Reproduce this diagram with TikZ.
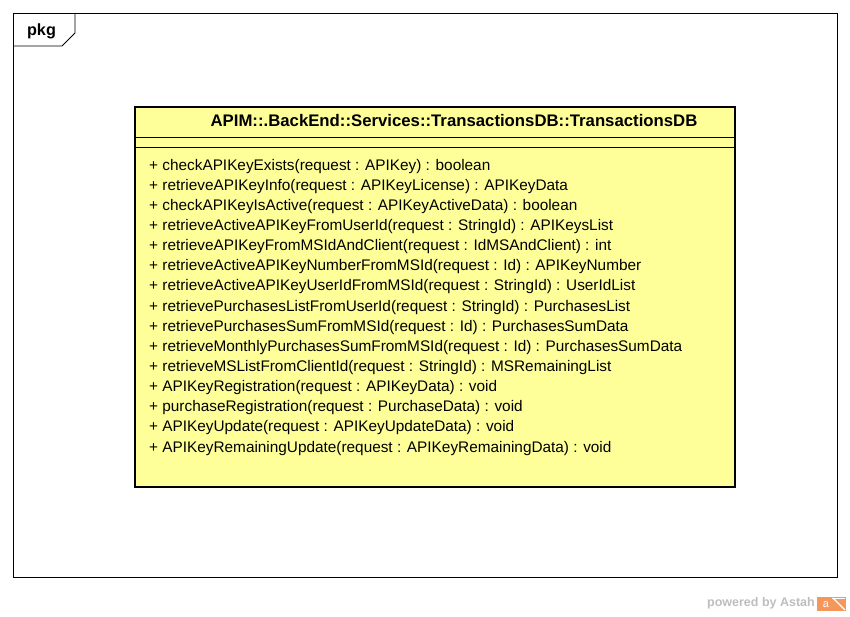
\documentclass[tikz,border=0pt]{standalone}
\usepackage{fontspec}
\setmainfont{Liberation Sans}
\definecolor{classfill}{RGB}{255,255,153}
\definecolor{astahgray}{RGB}{190,190,190}
\definecolor{astahorange}{RGB}{245,150,90}
\begin{document}
\begin{tikzpicture}[x=1pt,y=-1pt,
  member/.style={anchor=mid west,inner sep=0pt,font=\fontsize{15.35}{18}\selectfont},
  header/.style={anchor=mid,inner sep=0pt,font=\bfseries\fontsize{16.75}{18}\selectfont}]
\useasboundingbox (0,0) rectangle (850,617);
\fill[white] (0,0) rectangle (850,617);
% package frame
\draw[line width=0.8pt] (13,13) rectangle (837,577);
\draw[line width=0.8pt] (13,46) -- (62,46) -- (75,33) -- (75,13);
\node[inner sep=0pt,font=\bfseries\fontsize{16.2}{18}\selectfont] (pkg) at (41.5,31) {pkg};
% class box
\filldraw[fill=classfill,draw=black,line width=2.6pt] (135,107) rectangle (735,487);
\draw[line width=1pt] (135,138) -- (735,138);
\draw[line width=1pt] (135,148) -- (735,148);
\node[header] (title) at (454,124) {APIM::.BackEnd::Services::TransactionsDB::TransactionsDB};
\foreach \i/\t in {0/{+ checkAPIKeyExists(request : APIKey) : boolean},
  1/{+ retrieveAPIKeyInfo(request : APIKeyLicense) : APIKeyData},
  2/{+ checkAPIKeyIsActive(request : APIKeyActiveData) : boolean},
  3/{+ retrieveActiveAPIKeyFromUserId(request : StringId) : APIKeysList},
  4/{+ retrieveAPIKeyFromMSIdAndClient(request : IdMSAndClient) : int},
  5/{+ retrieveActiveAPIKeyNumberFromMSId(request : Id) : APIKeyNumber},
  6/{+ retrieveActiveAPIKeyUserIdFromMSId(request : StringId) : UserIdList},
  7/{+ retrievePurchasesListFromUserId(request : StringId) : PurchasesList},
  8/{+ retrievePurchasesSumFromMSId(request : Id) : PurchasesSumData},
  9/{+ retrieveMonthlyPurchasesSumFromMSId(request : Id) : PurchasesSumData},
  10/{+ retrieveMSListFromClientId(request : StringId) : MSRemainingList},
  11/{+ APIKeyRegistration(request : APIKeyData) : void},
  12/{+ purchaseRegistration(request : PurchaseData) : void},
  13/{+ APIKeyUpdate(request : APIKeyUpdateData) : void},
  14/{+ APIKeyRemainingUpdate(request : APIKeyRemainingData) : void}}
  {\node[member] (m\i) at (149,{167.5+20.14*\i}) {\t};}
% powered by Astah
\node[anchor=mid east,inner sep=0pt,text=astahgray,font=\bfseries\fontsize{12.5}{14}\selectfont] (pw) at (815,604) {powered by Astah};
\fill[astahorange] (817,597) rectangle (846,611);
\node[inner sep=0pt,text=white,font=\fontsize{11}{11}\selectfont] (logo) at (826,605) {a};
\draw[white,line width=1.2pt] (833,598) -- (845,610);
\draw[white,line width=1pt] (832,598.5) -- (845,598.5);
\end{tikzpicture}
\end{document}
